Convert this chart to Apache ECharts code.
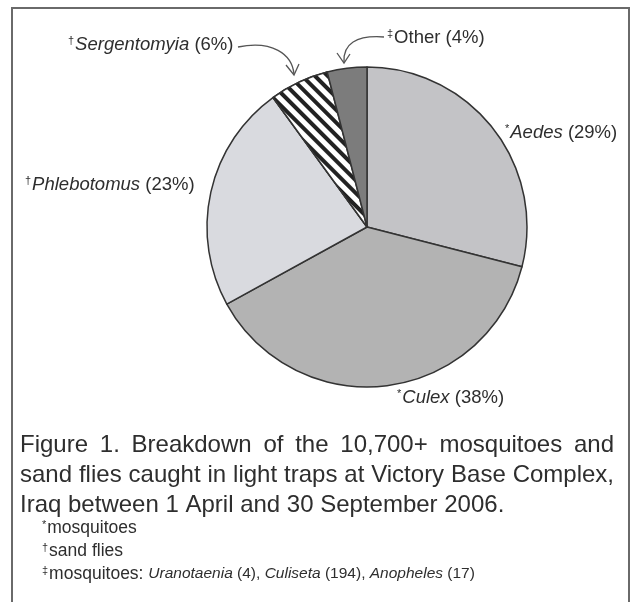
<!DOCTYPE html>
<html>
<head>
<meta charset="UTF-8">
<script src="https://cdn.jsdelivr.net/npm/echarts@6/dist/echarts.min.js"></script>
<style>
html, body { margin: 0; padding: 0; background: #fff; }
#chart { width: 632px; height: 602px; }
</style>
</head>
<body>
<div id="chart"></div>
<script>
const categories = ['Aedes', 'Culex', 'Phlebotomus', 'Sergentomyia', 'Other'];
const values = [29, 38, 23, 6, 4];
const marks = ['*', '*', '\u2020', '\u2020', '\u2021'];
const italicNames = [true, true, true, true, false];
const colors = ['#c3c3c6', '#b3b3b3', '#d9dadf', '#ffffff', '#7c7c7c'];
const captionLines = [
  'Figure 1. Breakdown of the 10,700+ mosquitoes and',
  'sand flies caught in light traps at Victory Base Complex,',
  'Iraq between 1 April and 30 September 2006.'
];

// label spots (left edge, middle)
const labelSpots = [[505, 133], [397, 398], [25, 185], [68, 45], [387, 38]];

const chart = echarts.init(document.getElementById('chart'));
const FONT = '"Liberation Sans", Arial, sans-serif';
const TXT = '#2e2e2e';

const pieData = categories.map((c, i) => {
  const item = { name: c, value: values[i], itemStyle: { color: colors[i] } };
  if (c === 'Sergentomyia') {
    item.itemStyle.decal = {
      symbol: 'rect',
      color: '#222',
      backgroundColor: '#ffffff',
      dashArrayX: [1, 0],
      dashArrayY: [4, 5],
      rotation: Math.PI / 4,
      symbolSize: 1
    };
  }
  return item;
});

// justify caption lines 1-2 by measuring words
const ctx = document.createElement('canvas').getContext('2d');
const capFont = '24px ' + FONT;
ctx.font = capFont;
const graphics = [];
const capX0 = 20, capX1 = 614;
const capY = [445, 475, 505];
captionLines.forEach((line, li) => {
  if (li < 2) {
    const words = line.split(' ');
    const widths = words.map(w => ctx.measureText(w).width);
    const total = widths.reduce((a, b) => a + b, 0);
    const gap = (capX1 - capX0 - total) / (words.length - 1);
    let x = capX0;
    words.forEach((w, k) => {
      graphics.push({ type: 'text', x: x, y: capY[li],
        style: { text: w, font: capFont, fill: TXT, textVerticalAlign: 'middle' } });
      x += widths[k] + gap;
    });
  } else {
    graphics.push({ type: 'text', x: capX0, y: capY[li],
      style: { text: line, font: capFont, fill: TXT, textVerticalAlign: 'middle' } });
  }
});

// footnotes
const supStyle = { fontSize: 11, fontFamily: FONT, verticalAlign: 'top', fill: TXT, padding: [0, 1, 6, 0] };
graphics.push({ type: 'text', x: 42, y: 528, style: {
  text: '{s|*}{n|mosquitoes}', fill: TXT, textVerticalAlign: 'middle',
  rich: { s: supStyle, n: { fontSize: 17.5, fontFamily: FONT, fill: TXT } } } });
graphics.push({ type: 'text', x: 42, y: 551, style: {
  text: '{s|\u2020}{n|sand flies}', fill: TXT, textVerticalAlign: 'middle',
  rich: { s: supStyle, n: { fontSize: 17.5, fontFamily: FONT, fill: TXT } } } });
graphics.push({ type: 'text', x: 42, y: 574, style: {
  text: '{s|\u2021}{n|mosquitoes: }{i|Uranotaenia}{m| (4), }{i|Culiseta}{m| (194), }{i|Anopheles}{m| (17)}',
  fill: TXT, textVerticalAlign: 'middle',
  rich: {
    s: supStyle,
    n: { fontSize: 17.5, fontFamily: FONT, fill: TXT },
    i: { fontSize: 15.5, fontFamily: FONT, fontStyle: 'italic', fill: TXT },
    m: { fontSize: 15.5, fontFamily: FONT, fill: TXT }
  } } });

// frame
graphics.push({ type: 'rect', shape: { x: 12, y: 8, width: 617, height: 610 },
  style: { fill: 'none', stroke: '#6a6a6a', lineWidth: 2 }, z: 0 });

// curved arrows
const arrowStyle = { fill: 'none', stroke: '#555', lineWidth: 1.3 };
graphics.push({ type: 'bezierCurve', shape: { x1: 238, y1: 47, cpx1: 272, cpy1: 40, cpx2: 292, cpy2: 54, x2: 294, y2: 74 }, style: arrowStyle });
graphics.push({ type: 'polyline', shape: { points: [[286, 65], [294, 75], [299, 64]] }, style: arrowStyle });
graphics.push({ type: 'bezierCurve', shape: { x1: 384, y1: 37, cpx1: 356, cpy1: 35, cpx2: 343, cpy2: 44, x2: 344, y2: 62 }, style: arrowStyle });
graphics.push({ type: 'polyline', shape: { points: [[337, 53], [344, 63], [350, 54]] }, style: arrowStyle });

chart.setOption({
  animation: false,
  backgroundColor: '#ffffff',
  graphic: graphics,
  series: [{
    type: 'pie',
    center: [367, 227],
    radius: [0, 160],
    startAngle: 90,
    clockwise: true,
    avoidLabelOverlap: false,
    itemStyle: { borderColor: '#333', borderWidth: 1.5 },
    label: {
      show: true,
      position: 'outside',
      formatter: function (p) {
        const i = p.dataIndex;
        const nm = italicNames[i] ? '{i|' + categories[i] + '}' : '{n|' + categories[i] + '}';
        return '{s|' + marks[i] + '}' + nm + '{n| (' + values[i] + '%)}';
      },
      rich: {
        s: { fontSize: 11, fontFamily: FONT, color: TXT, verticalAlign: 'top', padding: [0, 1, 8, 0] },
        i: { fontSize: 18.5, fontFamily: FONT, fontStyle: 'italic', color: TXT },
        n: { fontSize: 18.5, fontFamily: FONT, color: TXT }
      }
    },
    labelLine: { show: false },
    labelLayout: function (params) {
      const s = labelSpots[params.dataIndex];
      return { x: s[0], y: s[1], align: 'left', verticalAlign: 'middle' };
    },
    emphasis: { disabled: true },
    data: pieData
  }]
});
</script>
</body>
</html>
